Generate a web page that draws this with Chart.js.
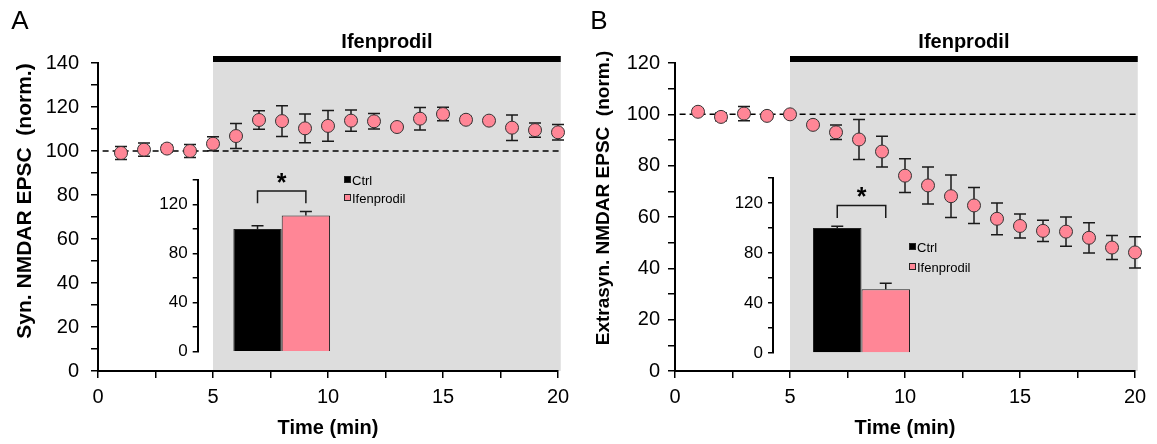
<!DOCTYPE html>
<html>
<head>
<meta charset="utf-8">
<script src="https://cdn.jsdelivr.net/npm/chart.js@4.4.1/dist/chart.umd.min.js"></script>
<style>
  html, body { margin: 0; padding: 0; background: #fff; }
  #wrap { position: relative; width: 1157px; height: 444px; overflow: hidden; }
  #wrap canvas { position: absolute; }
</style>
</head>
<body>
<div id="wrap">
  <canvas id="syn__chart" width="580" height="444" style="left:0;top:0"></canvas>
  <canvas id="extra__chart" width="577" height="444" style="left:580px;top:0"></canvas>
  <canvas id="synInset__chart" width="280" height="220" style="left:140px;top:150px"></canvas>
  <canvas id="extraInset__chart" width="280" height="220" style="left:720px;top:150px"></canvas>
</div>
<script>
// time course, minutes
const timeMin = [1, 2, 3, 4, 5, 6, 7, 8, 9, 10, 11, 12, 13, 14, 15, 16, 17, 18, 19, 20];

// A: synaptic NMDAR EPSC (norm.)
const synMean = [99.1, 100.6, 101.1, 100.0, 103.3, 106.8, 114.1, 113.6, 110.3, 111.4,
                 113.8, 113.5, 110.9, 114.7, 116.8, 114.2, 113.8, 110.6, 109.5, 108.5];
const synSem = [3.0, 3.0, 1.5, 2.9, 3.2, 5.7, 4.2, 7.0, 6.5, 7.0,
                4.8, 3.5, 1.0, 5.1, 3.1, 1.5, 1.0, 5.8, 3.2, 3.5];

// B: extrasynaptic NMDAR EPSC (norm.)
const extraMean = [101.0, 99.0, 100.3, 99.4, 100.0, 95.9, 93.0, 90.2, 85.5, 76.1,
                   72.3, 68.1, 64.5, 59.3, 56.5, 54.6, 54.3, 51.9, 48.1, 46.2];
const extraSem = [1.0, 1.5, 2.8, 1.0, 0.5, 0.5, 2.8, 7.8, 6.0, 6.6,
                  7.2, 8.3, 7.0, 6.2, 4.7, 4.1, 5.7, 5.9, 4.7, 6.1];

// insets: summary bars
const insetGroups = ['Ctrl', 'Ifenprodil'];
const synBarMean = [100, 111];
const synBarSem = [2.7, 3.3];
const extraBarMean = [100, 51];
const extraBarSem = [1.5, 4.8];

const PINK = '#ff8696';
const FONT = '"Liberation Sans", Arial, Helvetica, sans-serif';
Chart.defaults.font.family = FONT;
Chart.defaults.color = '#000';

// grey drug period + black bar + label
const drugPeriod = {
    id: 'drugPeriod',
    beforeDraw(chart, args, o) {
        const { ctx, chartArea, scales: { x } } = chart;
        const x0 = x.getPixelForValue(o.from);
        const x1 = x.getPixelForValue(o.to);
        ctx.save();
        ctx.fillStyle = '#dddddd';
        ctx.fillRect(x0, chartArea.top - 1, x1 - x0, chartArea.bottom - chartArea.top + 1);
        ctx.fillStyle = '#000';
        ctx.fillRect(x0, chartArea.top - 7, x1 - x0, 6);
        ctx.font = 'bold 20px ' + FONT;
        ctx.textAlign = 'center';
        ctx.textBaseline = 'middle';
        ctx.fillText(o.label, (x0 + x1) / 2, chartArea.top - 21);
        ctx.restore();
    },
};

// dashed 100% line and SEM bars under the markers
const semBars = {
    id: 'semBars',
    beforeDatasetsDraw(chart, args, o) {
        const { ctx, scales: { x, y } } = chart;
        ctx.save();
        ctx.strokeStyle = '#000';
        ctx.lineWidth = 1.5;
        ctx.setLineDash([6, 4]);
        ctx.beginPath();
        ctx.moveTo(x.getPixelForValue(o.lineFrom), y.getPixelForValue(o.lineAt));
        ctx.lineTo(x.getPixelForValue(o.lineTo), y.getPixelForValue(o.lineAt));
        ctx.stroke();
        ctx.setLineDash([]);
        ctx.strokeStyle = '#1a1a1a';
        chart.data.datasets.forEach((ds, i) => {
            chart.getDatasetMeta(i).data.forEach((pt, j) => {
                const v = ds.data[j].y;
                const e = ds.errors[j];
                const yt = y.getPixelForValue(v + e);
                const yb = y.getPixelForValue(v - e);
                ctx.beginPath();
                ctx.moveTo(pt.x, yt); ctx.lineTo(pt.x, yb);
                ctx.moveTo(pt.x - 6, yt); ctx.lineTo(pt.x + 6, yt);
                ctx.moveTo(pt.x - 6, yb); ctx.lineTo(pt.x + 6, yb);
                ctx.stroke();
            });
        });
        ctx.restore();
    },
    afterDraw(chart, args, o) {
        const { ctx } = chart;
        ctx.save();
        ctx.fillStyle = '#000';
        ctx.font = '26px ' + FONT;
        ctx.textAlign = 'center';
        ctx.textBaseline = 'middle';
        ctx.fillText(o.letter, o.letterX, 22);
        ctx.translate(o.titleX, o.titleY);
        ctx.rotate(-Math.PI / 2);
        ctx.font = 'bold ' + o.titleSize + 'px ' + FONT;
        ctx.fillText(o.title, 0, 0);
        ctx.restore();
    },
};

// inset: upward SEM, significance bracket, legend
const insetMarks = {
    id: 'insetMarks',
    afterDatasetsDraw(chart, args, o) {
        const { ctx, scales: { y } } = chart;
        const centers = chart.data.datasets.map((ds, i) => chart.getDatasetMeta(i).data[0].x);
        ctx.save();
        ctx.strokeStyle = '#1a1a1a';
        ctx.lineWidth = 1.5;
        chart.data.datasets.forEach((ds, i) => {
            const yb = y.getPixelForValue(ds.data[0]);
            const yt = y.getPixelForValue(ds.data[0] + ds.errors[0]);
            ctx.beginPath();
            ctx.moveTo(centers[i], yb); ctx.lineTo(centers[i], yt);
            ctx.moveTo(centers[i] - 6, yt); ctx.lineTo(centers[i] + 6, yt);
            ctx.stroke();
        });
        const bt = y.getPixelForValue(o.bracketTop);
        const bb = y.getPixelForValue(o.bracketLeg);
        ctx.beginPath();
        ctx.moveTo(centers[0], bb); ctx.lineTo(centers[0], bt);
        ctx.lineTo(centers[1], bt); ctx.lineTo(centers[1], bb);
        ctx.stroke();
        ctx.fillStyle = '#000';
        ctx.font = 'bold 25px ' + FONT;
        ctx.textAlign = 'center';
        ctx.textBaseline = 'middle';
        ctx.fillText('*', (centers[0] + centers[1]) / 2, y.getPixelForValue(o.starAt) + 5);

        ctx.font = '13px ' + FONT;
        ctx.textAlign = 'left';
        chart.data.datasets.forEach((ds, i) => {
            const cy = o.legendY + i * o.legendGap;
            ctx.fillStyle = ds.backgroundColor;
            ctx.fillRect(o.legendX, cy - 5, 7, 7);
            ctx.lineWidth = 1;
            ctx.strokeStyle = '#222';
            ctx.strokeRect(o.legendX + 0.5, cy - 4.5, 6, 6);
            ctx.fillStyle = '#000';
            ctx.fillText(ds.label, o.legendX + 8, cy);
        });
        ctx.restore();
    },
};

function timeCourseChart(el, means, sems, yMax, yWidth, labelPad, panel) {
    return new Chart(el, {
        type: 'scatter',
        data: {
            datasets: [
                {
                    data: timeMin.map((t, i) => ({ x: t, y: means[i] })),
                    errors: sems,
                    pointRadius: 6.5,
                    pointBorderWidth: 1,
                    pointBackgroundColor: PINK,
                    pointBorderColor: '#333',
                    showLine: false,
                    clip: false,
                },
            ],
        },
        options: {
            responsive: false,
            animation: false,
            layout: { padding: { top: 63, right: 22, bottom: 0, left: 0 } },
            scales: {
                x: {
                    type: 'linear',
                    min: 0,
                    max: 20,
                    ticks: {
                        stepSize: 2.5,
                        autoSkip: false,
                        maxRotation: 0,
                        padding: 7,
                        font: { size: 20 },
                        callback: (v) => (v % 5 === 0 ? v : ''),
                    },
                    grid: { drawOnChartArea: false, tickLength: 7, lineWidth: 1.5, color: '#000' },
                    border: { color: '#000', width: 2 },
                    title: {
                        display: true,
                        text: 'Time (min)',
                        font: { size: 20, weight: 'bold' },
                        padding: { top: 0, bottom: 4 },
                    },
                    afterFit(s) { s.height = 73; },
                },
                y: {
                    min: 0,
                    max: yMax,
                    ticks: {
                        stepSize: 10,
                        autoSkip: false,
                        padding: labelPad,
                        font: { size: 20 },
                        callback: (v) => (v % 20 === 0 ? v : ''),
                    },
                    grid: { drawOnChartArea: false, tickLength: 7, lineWidth: 1.5, color: '#000' },
                    border: { color: '#000', width: 2 },
                    afterFit(s) { s.width = yWidth; },
                },
            },
            plugins: {
                legend: { display: false },
                tooltip: { enabled: false },
                drugPeriod: { from: 5, to: 20.12, label: 'Ifenprodil' },
                semBars: Object.assign({ lineAt: 100, lineFrom: 0.2, lineTo: 20.2 }, panel),
            },
        },
        plugins: [drugPeriod, semBars],
    });
}

function insetChart(el, means, sems, yWidth, catPct, pad, marks) {
    return new Chart(el, {
        type: 'bar',
        data: {
            labels: [''],
            datasets: insetGroups.map((g, i) => ({
                label: g,
                data: [means[i]],
                errors: [sems[i]],
                backgroundColor: i === 0 ? '#000000' : PINK,
                borderColor: '#222',
                borderWidth: 1,
                categoryPercentage: catPct,
                barPercentage: 1,
            })),
        },
        options: {
            responsive: false,
            animation: false,
            layout: { padding: pad },
            scales: {
                x: { display: false },
                y: {
                    min: 0,
                    max: 140,
                    ticks: {
                        stepSize: 20,
                        autoSkip: false,
                        padding: 5,
                        font: { size: 17 },
                        callback: (v) => (v % 40 === 0 ? v : ''),
                    },
                    grid: { drawOnChartArea: false, tickLength: 5, lineWidth: 1.5, color: '#000' },
                    border: { color: '#000', width: 2 },
                    afterFit(s) { s.width = yWidth; },
                },
            },
            plugins: {
                legend: { display: false },
                tooltip: { enabled: false },
                insetMarks: marks,
            },
        },
        plugins: [insetMarks],
    });
}

const synChart = timeCourseChart(document.getElementById('syn__chart'), synMean, synSem, 140, 98, 12, {
    letter: 'A', letterX: 20, title: 'Syn. NMDAR EPSC  (norm.)', titleX: 25, titleY: 201, titleSize: 21,
});
const extraChart = timeCourseChart(document.getElementById('extra__chart'), extraMean, extraSem, 120, 95, 8, {
    letter: 'B', letterX: 19, title: 'Extrasyn. NMDAR EPSC  (norm.)', titleX: 24, titleY: 198, titleSize: 19,
});

const synInset = insetChart(document.getElementById('synInset__chart'), synBarMean, synBarSem, 57.7, 0.5756,
    { top: 30, right: 54.3, bottom: 18.3, left: 0 },
    { bracketTop: 131, bracketLeg: 121, starAt: 141, legendX: 204, legendY: 31, legendGap: 18 });
const extraInset = insetChart(document.getElementById('extraInset__chart'), extraBarMean, extraBarSem, 53, 0.548,
    { top: 28, right: 50, bottom: 17, left: 0 },
    { bracketTop: 118, bracketLeg: 108, starAt: 128, legendX: 189, legendY: 98, legendGap: 20 });
</script>
</body>
</html>
